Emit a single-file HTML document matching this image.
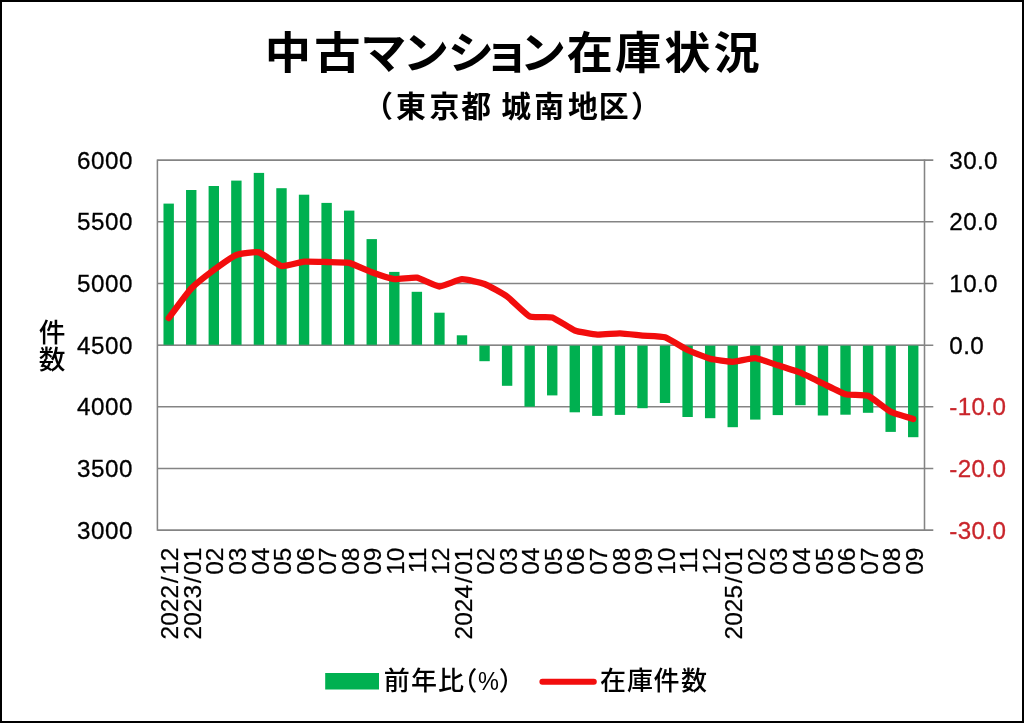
<!DOCTYPE html>
<html lang="ja"><head><meta charset="utf-8"><title>中古マンション在庫状況</title>
<style>html,body{margin:0;padding:0;background:#fff}svg{display:block}text{white-space:pre}</style>
</head><body>
<svg width="1024" height="723" viewBox="0 0 1024 723">
<rect x="0" y="0" width="1024" height="723" fill="#fff"/>
<line x1="157.40" y1="160.10" x2="933.30" y2="160.10" stroke="#848484" stroke-width="1.55"/>
<line x1="157.40" y1="221.77" x2="933.30" y2="221.77" stroke="#848484" stroke-width="1.55"/>
<line x1="157.40" y1="283.43" x2="933.30" y2="283.43" stroke="#848484" stroke-width="1.55"/>
<line x1="157.40" y1="345.15" x2="933.30" y2="345.15" stroke="#848484" stroke-width="1.55"/>
<line x1="157.40" y1="406.77" x2="933.30" y2="406.77" stroke="#848484" stroke-width="1.55"/>
<line x1="157.40" y1="468.43" x2="933.30" y2="468.43" stroke="#848484" stroke-width="1.55"/>
<line x1="157.40" y1="530.10" x2="933.30" y2="530.10" stroke="#848484" stroke-width="1.55"/>
<line x1="157.40" y1="159.40" x2="157.40" y2="530.80" stroke="#848484" stroke-width="1.55"/>
<line x1="924.50" y1="159.40" x2="924.50" y2="530.80" stroke="#848484" stroke-width="1.55"/>
<g fill="#00B050">
<rect x="163.48" y="203.60" width="10.4" height="141.55"/>
<rect x="186.04" y="190.00" width="10.4" height="155.15"/>
<rect x="208.60" y="186.00" width="10.4" height="159.15"/>
<rect x="231.17" y="180.60" width="10.4" height="164.55"/>
<rect x="253.73" y="172.90" width="10.4" height="172.25"/>
<rect x="276.29" y="188.20" width="10.4" height="156.95"/>
<rect x="298.85" y="194.70" width="10.4" height="150.45"/>
<rect x="321.41" y="202.90" width="10.4" height="142.25"/>
<rect x="343.98" y="210.60" width="10.4" height="134.55"/>
<rect x="366.54" y="239.10" width="10.4" height="106.05"/>
<rect x="389.10" y="271.90" width="10.4" height="73.25"/>
<rect x="411.66" y="291.80" width="10.4" height="53.35"/>
<rect x="434.22" y="312.70" width="10.4" height="32.45"/>
<rect x="456.78" y="335.30" width="10.4" height="9.85"/>
<rect x="479.35" y="345.15" width="10.4" height="16.05"/>
<rect x="501.91" y="345.15" width="10.4" height="40.65"/>
<rect x="524.47" y="345.15" width="10.4" height="61.55"/>
<rect x="547.03" y="345.15" width="10.4" height="50.25"/>
<rect x="569.59" y="345.15" width="10.4" height="67.15"/>
<rect x="592.15" y="345.15" width="10.4" height="70.75"/>
<rect x="614.72" y="345.15" width="10.4" height="69.75"/>
<rect x="637.28" y="345.15" width="10.4" height="63.05"/>
<rect x="659.84" y="345.15" width="10.4" height="57.85"/>
<rect x="682.40" y="345.15" width="10.4" height="71.85"/>
<rect x="704.96" y="345.15" width="10.4" height="73.05"/>
<rect x="727.52" y="345.15" width="10.4" height="82.05"/>
<rect x="750.09" y="345.15" width="10.4" height="74.45"/>
<rect x="772.65" y="345.15" width="10.4" height="69.95"/>
<rect x="795.21" y="345.15" width="10.4" height="60.05"/>
<rect x="817.77" y="345.15" width="10.4" height="70.35"/>
<rect x="840.33" y="345.15" width="10.4" height="69.55"/>
<rect x="862.90" y="345.15" width="10.4" height="67.65"/>
<rect x="885.46" y="345.15" width="10.4" height="86.75"/>
<rect x="908.02" y="345.15" width="10.4" height="92.05"/>
</g>
<line x1="157.40" y1="345.15" x2="924.50" y2="345.15" stroke="#848484" stroke-width="1.55" opacity="0.55"/>
<path d="M168.68,318.10 C170.29,315.99 188.02,291.94 191.24,288.50 C194.47,285.06 210.58,272.39 213.80,270.00 C217.03,267.61 233.14,256.26 236.37,255.00 C239.59,253.74 255.70,251.61 258.93,252.40 C262.15,253.19 278.27,265.34 281.49,266.00 C284.71,266.66 300.83,261.89 304.05,261.60 C307.27,261.31 323.39,261.91 326.61,262.00 C329.84,262.09 345.95,262.16 349.18,262.90 C352.40,263.64 368.51,271.14 371.74,272.30 C374.96,273.46 391.08,278.71 394.30,279.10 C397.52,279.49 413.64,277.17 416.86,277.70 C420.08,278.23 436.20,286.39 439.42,286.50 C442.65,286.61 458.76,279.38 461.98,279.20 C465.21,279.02 481.32,282.76 484.55,284.00 C487.77,285.24 503.88,294.19 507.11,296.50 C510.33,298.81 526.45,314.91 529.67,316.40 C532.89,317.89 549.01,316.39 552.23,317.40 C555.45,318.41 571.57,329.27 574.79,330.50 C578.02,331.73 594.13,334.39 597.35,334.60 C600.58,334.81 616.69,333.33 619.92,333.40 C623.14,333.47 639.25,335.32 642.48,335.60 C645.70,335.88 661.82,336.27 665.04,337.30 C668.26,338.33 684.38,348.46 687.60,350.00 C690.82,351.54 706.94,357.96 710.16,358.80 C713.39,359.64 729.50,361.85 732.73,361.80 C735.95,361.75 752.06,357.85 755.29,358.10 C758.51,358.35 774.63,364.26 777.85,365.30 C781.07,366.34 797.19,371.40 800.41,372.70 C803.63,374.00 819.75,381.96 822.97,383.50 C826.20,385.04 842.31,393.32 845.53,394.20 C848.76,395.08 864.87,394.54 868.10,395.80 C871.32,397.06 887.43,410.14 890.66,411.80 C893.88,413.46 911.61,418.49 913.22,419.00" fill="none" stroke="#F20D0D" stroke-width="6.3" stroke-linejoin="round" stroke-linecap="round"/>
<text transform="scale(1.04,1)" x="254.57 302.21 346.35 387.36 430.58 465.00 499.76 544.86 591.30 638.75 685.96" y="68.8" font-family='"Liberation Sans", "Noto Sans CJK JP", sans-serif' font-weight="700" font-size="44.5">中古マンション在庫状況</text>
<text x="363.20 396.00 429.50 461.25 491.05 501.30 534.35 567.95 598.70 631.10" y="116.7" font-family='"Liberation Sans", "Noto Sans CJK JP", sans-serif' font-weight="700" font-size="29.8">（東京都 城南地区）</text>
<text x="132.9" y="168.55" text-anchor="end" letter-spacing="0.5" stroke="#000" stroke-width="0.3" font-family='"Liberation Sans", sans-serif' font-size="24.2">6000</text>
<text x="132.9" y="230.22" text-anchor="end" letter-spacing="0.5" stroke="#000" stroke-width="0.3" font-family='"Liberation Sans", sans-serif' font-size="24.2">5500</text>
<text x="132.9" y="291.88" text-anchor="end" letter-spacing="0.5" stroke="#000" stroke-width="0.3" font-family='"Liberation Sans", sans-serif' font-size="24.2">5000</text>
<text x="132.9" y="353.60" text-anchor="end" letter-spacing="0.5" stroke="#000" stroke-width="0.3" font-family='"Liberation Sans", sans-serif' font-size="24.2">4500</text>
<text x="132.9" y="415.22" text-anchor="end" letter-spacing="0.5" stroke="#000" stroke-width="0.3" font-family='"Liberation Sans", sans-serif' font-size="24.2">4000</text>
<text x="132.9" y="476.88" text-anchor="end" letter-spacing="0.5" stroke="#000" stroke-width="0.3" font-family='"Liberation Sans", sans-serif' font-size="24.2">3500</text>
<text x="132.9" y="538.55" text-anchor="end" letter-spacing="0.5" stroke="#000" stroke-width="0.3" font-family='"Liberation Sans", sans-serif' font-size="24.2">3000</text>
<text x="949.3" y="168.55" fill="#000" stroke="#000" stroke-width="0.3" letter-spacing="0.4" font-family='"Liberation Sans", sans-serif' font-size="24.2">30.0</text>
<text x="949.3" y="230.22" fill="#000" stroke="#000" stroke-width="0.3" letter-spacing="0.4" font-family='"Liberation Sans", sans-serif' font-size="24.2">20.0</text>
<text x="949.3" y="291.88" fill="#000" stroke="#000" stroke-width="0.3" letter-spacing="0.4" font-family='"Liberation Sans", sans-serif' font-size="24.2">10.0</text>
<text x="949.3" y="353.60" fill="#000" stroke="#000" stroke-width="0.3" letter-spacing="0.4" font-family='"Liberation Sans", sans-serif' font-size="24.2">0.0</text>
<text x="949.3" y="415.22" fill="#C9252B" stroke="#C9252B" stroke-width="0.3" letter-spacing="0.4" font-family='"Liberation Sans", sans-serif' font-size="24.2">-10.0</text>
<text x="949.3" y="476.88" fill="#C9252B" stroke="#C9252B" stroke-width="0.3" letter-spacing="0.4" font-family='"Liberation Sans", sans-serif' font-size="24.2">-20.0</text>
<text x="949.3" y="538.55" fill="#C9252B" stroke="#C9252B" stroke-width="0.3" letter-spacing="0.4" font-family='"Liberation Sans", sans-serif' font-size="24.2">-30.0</text>
<text x="52" y="342.2" text-anchor="middle" font-family='"Liberation Sans", "Noto Sans CJK JP", sans-serif' font-weight="500" font-size="26.7">件</text>
<text x="52" y="368.8" text-anchor="middle" font-family='"Liberation Sans", "Noto Sans CJK JP", sans-serif' font-weight="500" font-size="26.7">数</text>
<text transform="translate(178.28,547.5) rotate(-90)" text-anchor="end" stroke="#000" stroke-width="0.25" font-family='"Liberation Sans", sans-serif' font-size="24.5">2022<tspan dx="1.6">/</tspan><tspan dx="1.7">12</tspan></text>
<text transform="translate(200.84,547.5) rotate(-90)" text-anchor="end" stroke="#000" stroke-width="0.25" font-family='"Liberation Sans", sans-serif' font-size="24.5">2023<tspan dx="1.6">/</tspan><tspan dx="1.7">01</tspan></text>
<text transform="translate(223.40,547.5) rotate(-90)" text-anchor="end" stroke="#000" stroke-width="0.25" font-family='"Liberation Sans", sans-serif' font-size="24.5">02</text>
<text transform="translate(245.97,547.5) rotate(-90)" text-anchor="end" stroke="#000" stroke-width="0.25" font-family='"Liberation Sans", sans-serif' font-size="24.5">03</text>
<text transform="translate(268.53,547.5) rotate(-90)" text-anchor="end" stroke="#000" stroke-width="0.25" font-family='"Liberation Sans", sans-serif' font-size="24.5">04</text>
<text transform="translate(291.09,547.5) rotate(-90)" text-anchor="end" stroke="#000" stroke-width="0.25" font-family='"Liberation Sans", sans-serif' font-size="24.5">05</text>
<text transform="translate(313.65,547.5) rotate(-90)" text-anchor="end" stroke="#000" stroke-width="0.25" font-family='"Liberation Sans", sans-serif' font-size="24.5">06</text>
<text transform="translate(336.21,547.5) rotate(-90)" text-anchor="end" stroke="#000" stroke-width="0.25" font-family='"Liberation Sans", sans-serif' font-size="24.5">07</text>
<text transform="translate(358.78,547.5) rotate(-90)" text-anchor="end" stroke="#000" stroke-width="0.25" font-family='"Liberation Sans", sans-serif' font-size="24.5">08</text>
<text transform="translate(381.34,547.5) rotate(-90)" text-anchor="end" stroke="#000" stroke-width="0.25" font-family='"Liberation Sans", sans-serif' font-size="24.5">09</text>
<text transform="translate(403.90,547.5) rotate(-90)" text-anchor="end" stroke="#000" stroke-width="0.25" font-family='"Liberation Sans", sans-serif' font-size="24.5">10</text>
<text transform="translate(426.46,547.5) rotate(-90)" text-anchor="end" stroke="#000" stroke-width="0.25" font-family='"Liberation Sans", sans-serif' font-size="24.5">11</text>
<text transform="translate(449.02,547.5) rotate(-90)" text-anchor="end" stroke="#000" stroke-width="0.25" font-family='"Liberation Sans", sans-serif' font-size="24.5">12</text>
<text transform="translate(471.58,547.5) rotate(-90)" text-anchor="end" stroke="#000" stroke-width="0.25" font-family='"Liberation Sans", sans-serif' font-size="24.5">2024<tspan dx="1.6">/</tspan><tspan dx="1.7">01</tspan></text>
<text transform="translate(494.15,547.5) rotate(-90)" text-anchor="end" stroke="#000" stroke-width="0.25" font-family='"Liberation Sans", sans-serif' font-size="24.5">02</text>
<text transform="translate(516.71,547.5) rotate(-90)" text-anchor="end" stroke="#000" stroke-width="0.25" font-family='"Liberation Sans", sans-serif' font-size="24.5">03</text>
<text transform="translate(539.27,547.5) rotate(-90)" text-anchor="end" stroke="#000" stroke-width="0.25" font-family='"Liberation Sans", sans-serif' font-size="24.5">04</text>
<text transform="translate(561.83,547.5) rotate(-90)" text-anchor="end" stroke="#000" stroke-width="0.25" font-family='"Liberation Sans", sans-serif' font-size="24.5">05</text>
<text transform="translate(584.39,547.5) rotate(-90)" text-anchor="end" stroke="#000" stroke-width="0.25" font-family='"Liberation Sans", sans-serif' font-size="24.5">06</text>
<text transform="translate(606.95,547.5) rotate(-90)" text-anchor="end" stroke="#000" stroke-width="0.25" font-family='"Liberation Sans", sans-serif' font-size="24.5">07</text>
<text transform="translate(629.52,547.5) rotate(-90)" text-anchor="end" stroke="#000" stroke-width="0.25" font-family='"Liberation Sans", sans-serif' font-size="24.5">08</text>
<text transform="translate(652.08,547.5) rotate(-90)" text-anchor="end" stroke="#000" stroke-width="0.25" font-family='"Liberation Sans", sans-serif' font-size="24.5">09</text>
<text transform="translate(674.64,547.5) rotate(-90)" text-anchor="end" stroke="#000" stroke-width="0.25" font-family='"Liberation Sans", sans-serif' font-size="24.5">10</text>
<text transform="translate(697.20,547.5) rotate(-90)" text-anchor="end" stroke="#000" stroke-width="0.25" font-family='"Liberation Sans", sans-serif' font-size="24.5">11</text>
<text transform="translate(719.76,547.5) rotate(-90)" text-anchor="end" stroke="#000" stroke-width="0.25" font-family='"Liberation Sans", sans-serif' font-size="24.5">12</text>
<text transform="translate(742.33,547.5) rotate(-90)" text-anchor="end" stroke="#000" stroke-width="0.25" font-family='"Liberation Sans", sans-serif' font-size="24.5">2025<tspan dx="1.6">/</tspan><tspan dx="1.7">01</tspan></text>
<text transform="translate(764.89,547.5) rotate(-90)" text-anchor="end" stroke="#000" stroke-width="0.25" font-family='"Liberation Sans", sans-serif' font-size="24.5">02</text>
<text transform="translate(787.45,547.5) rotate(-90)" text-anchor="end" stroke="#000" stroke-width="0.25" font-family='"Liberation Sans", sans-serif' font-size="24.5">03</text>
<text transform="translate(810.01,547.5) rotate(-90)" text-anchor="end" stroke="#000" stroke-width="0.25" font-family='"Liberation Sans", sans-serif' font-size="24.5">04</text>
<text transform="translate(832.57,547.5) rotate(-90)" text-anchor="end" stroke="#000" stroke-width="0.25" font-family='"Liberation Sans", sans-serif' font-size="24.5">05</text>
<text transform="translate(855.13,547.5) rotate(-90)" text-anchor="end" stroke="#000" stroke-width="0.25" font-family='"Liberation Sans", sans-serif' font-size="24.5">06</text>
<text transform="translate(877.70,547.5) rotate(-90)" text-anchor="end" stroke="#000" stroke-width="0.25" font-family='"Liberation Sans", sans-serif' font-size="24.5">07</text>
<text transform="translate(900.26,547.5) rotate(-90)" text-anchor="end" stroke="#000" stroke-width="0.25" font-family='"Liberation Sans", sans-serif' font-size="24.5">08</text>
<text transform="translate(922.82,547.5) rotate(-90)" text-anchor="end" stroke="#000" stroke-width="0.25" font-family='"Liberation Sans", sans-serif' font-size="24.5">09</text>
<rect x="325.2" y="673" width="53.8" height="16.5" fill="#00B050"/>
<text y="689.6" font-family='"Liberation Sans", "Noto Sans CJK JP", sans-serif' font-weight="500" font-size="26"><tspan x="383.75">前</tspan><tspan x="411.10">年</tspan><tspan x="438.10">比</tspan><tspan x="451.15">（</tspan><tspan x="477.95" textLength="20.91" lengthAdjust="spacingAndGlyphs">%</tspan><tspan x="498.75">）</tspan></text>
<line x1="542.4" y1="681.7" x2="593.8" y2="681.7" stroke="#F20D0D" stroke-width="6" stroke-linecap="round"/>
<text x="599.90 626.90 653.45 681.05" y="689.6" font-family='"Liberation Sans", "Noto Sans CJK JP", sans-serif' font-weight="500" font-size="26">在庫件数</text>
<rect x="1" y="1" width="1022" height="721" fill="none" stroke="#000" stroke-width="2"/>
</svg>
</body></html>
